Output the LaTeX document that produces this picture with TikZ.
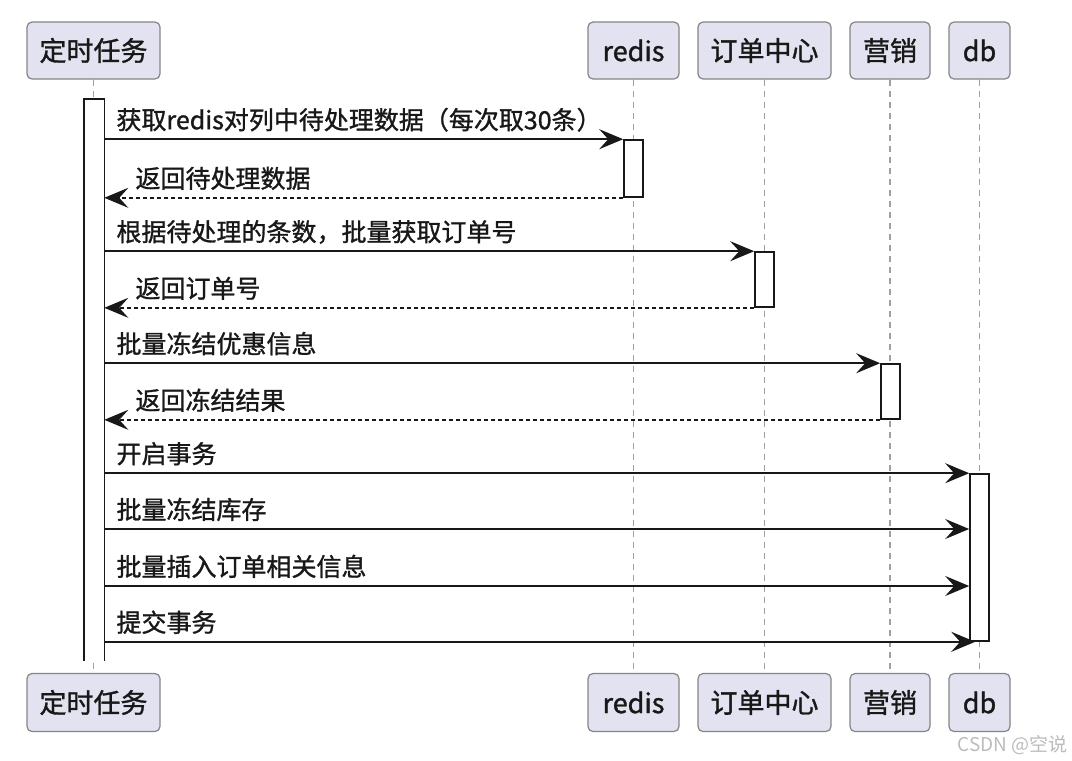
\documentclass[tikz,border=0pt]{standalone}
\usepackage{fontspec}
\setmainfont{Noto Sans CJK SC}[FakeBold=1.2]
\newfontfamily\wmfont{Noto Sans CJK SC}
\usetikzlibrary{arrows.meta,calc}
\definecolor{pfill}{HTML}{E2E2F0}
\definecolor{pborder}{HTML}{858585}
\definecolor{lline}{HTML}{A0A0A0}
\definecolor{ink}{HTML}{181818}
\definecolor{wm}{HTML}{BBBBBB}
\begin{document}
\begin{tikzpicture}[x=1pt,y=-1pt,
  part/.style={draw=pborder,line width=1.2pt,fill=pfill,rounded corners=5pt,
    text=ink,font=\fontsize{27}{32}\selectfont,inner sep=0pt},
  lifeline/.style={draw=lline,line width=1.2pt,dash pattern=on 6pt off 5pt},
  actbox/.style={draw=ink,line width=1.6pt,fill=white,minimum width=19pt,inner sep=0pt},
  msg/.style={draw=ink,line width=1.7pt,-{Stealth[length=24pt,width=20pt,inset=9pt]}},
  ret/.style={msg,dash pattern=on 4pt off 3pt},
  lbl/.style={anchor=base west,text=ink,font=\fontsize{25}{30}\selectfont,inner sep=0pt}]
\useasboundingbox (0,0) rectangle (1072,761);
% participants top
\node[part,minimum width=133pt,minimum height=57pt] (pt) at (93.5,50.5) {定时任务};
\node[part,minimum width=91pt,minimum height=57pt] (pr) at (633.5,50.5) {redis};
\node[part,minimum width=133pt,minimum height=57pt] (po) at (764.5,50.5) {订单中心};
\node[part,minimum width=80pt,minimum height=57pt] (pm) at (890,50.5) {营销};
\node[part,minimum width=61pt,minimum height=57pt] (pd) at (979.5,50.5) {db};
% participants bottom
\node[part,minimum width=133pt,minimum height=58pt] (bt) at (93.5,702.5) {定时任务};
\node[part,minimum width=91pt,minimum height=58pt] (br) at (633.5,702.5) {redis};
\node[part,minimum width=133pt,minimum height=58pt] (bo) at (764.5,702.5) {订单中心};
\node[part,minimum width=80pt,minimum height=58pt] (bm) at (890,702.5) {营销};
\node[part,minimum width=61pt,minimum height=58pt] (bd) at (979.5,702.5) {db};
% lifelines
\draw[lifeline] (pt.south) -- (bt.north);
\draw[lifeline] (pr.south) -- (br.north);
\draw[lifeline] (po.south) -- (bo.north);
\draw[lifeline] (pm.south) -- (bm.north);
\draw[lifeline] (pd.south) -- (bd.north);
% activations
\node[actbox,draw=none,minimum height=560pt] (at) at (94,380) {};
\draw[ink,line width=1.6pt] (at.south west) -- (at.north west) -- (at.north east) -- (at.south east);
\node[actbox,minimum height=57pt] (ar) at (633.5,168.5) {};
\node[actbox,minimum height=55pt] (ao) at (764.5,279.5) {};
\node[actbox,minimum height=55pt] (am) at (890.5,391.5) {};
\node[actbox,minimum height=167pt] (ad) at (979.5,557.5) {};
% messages
\draw[msg] (at.east |- ar.north) -- (ar.north west);
\node[lbl] (l1) at ($(at.east |- ar.north)+(12,-10)$) {获取redis对列中待处理数据（每次取30条）};
\draw[ret] (ar.south west) -- (at.east |- ar.south);
\node[lbl] (l2) at ($(at.east |- ar.south)+(31,-10)$) {返回待处理数据};
\draw[msg] (at.east |- ao.north) -- (ao.north west);
\node[lbl] (l3) at ($(at.east |- ao.north)+(12,-10)$) {根据待处理的条数，批量获取订单号};
\draw[ret] (ao.south west) -- (at.east |- ao.south);
\node[lbl] (l4) at ($(at.east |- ao.south)+(31,-10)$) {返回订单号};
\draw[msg] (at.east |- am.north) -- (am.north west);
\node[lbl] (l5) at ($(at.east |- am.north)+(12,-10)$) {批量冻结优惠信息};
\draw[ret] (am.south west) -- (at.east |- am.south);
\node[lbl] (l6) at ($(at.east |- am.south)+(31,-10)$) {返回冻结结果};
\coordinate (d2) at (ad.west |- 0,529);
\coordinate (d3) at (ad.west |- 0,586);
\coordinate (d4) at ($(ad.south west)+(6,0)$);
\draw[msg] (at.east |- ad.north) -- (ad.north west);
\node[lbl] (l7) at ($(at.east |- ad.north)+(12,-10)$) {开启事务};
\draw[msg] (at.east |- d2) -- (d2);
\node[lbl] (l8) at ($(at.east |- d2)+(12,-10)$) {批量冻结库存};
\draw[msg] (at.east |- d3) -- (d3);
\node[lbl] (l9) at ($(at.east |- d3)+(12,-10)$) {批量插入订单相关信息};
\draw[msg] (at.east |- d4) -- (d4);
\node[lbl] (l10) at ($(at.east |- d4)+(12,-10)$) {提交事务};
% watermark
\node[anchor=east,text=wm,font=\wmfont\fontsize{19}{22}\selectfont,inner sep=0pt] (wmk) at (1068,745) {CSDN @空说};
\end{tikzpicture}
\end{document}
